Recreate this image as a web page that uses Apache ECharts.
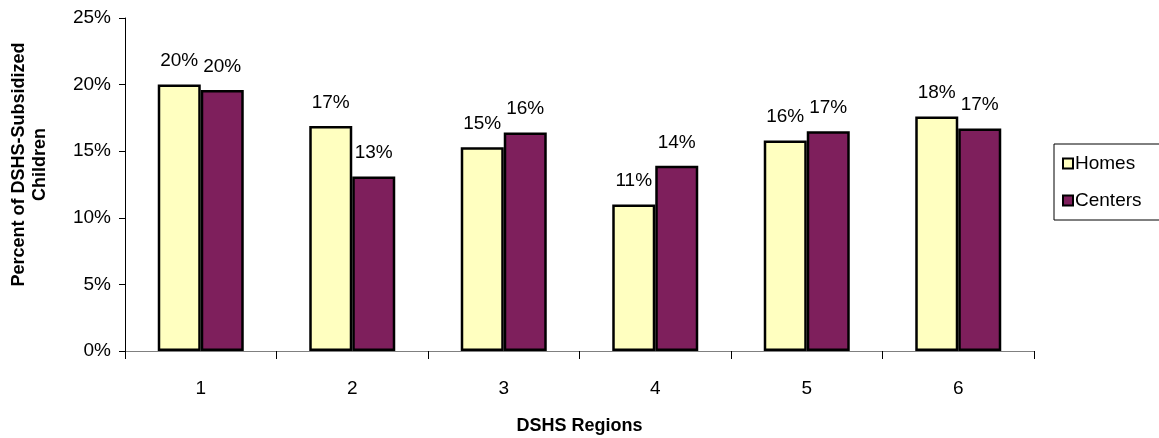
<!DOCTYPE html>
<html><head><meta charset="utf-8">
<script src="https://cdn.jsdelivr.net/npm/echarts@6/dist/echarts.min.js"></script>
<style>html,body{margin:0;padding:0;background:#fff}#c{width:1159px;height:438px}</style>
</head><body><div id="c"></div>
<script>
var categories = ['1','2','3','4','5','6'];
var homes = [20.0, 16.9, 15.3, 11.0, 15.8, 17.6];
var centers = [19.6, 13.1, 16.4, 13.9, 16.5, 16.7];
var yTicks = [0, 5, 10, 15, 20, 25];

var FONT = 'Liberation Sans, Arial, sans-serif';
var chart = echarts.init(document.getElementById('c'));
var lbl = {show:true, position:'top', distance:14, color:'#000', fontSize:19, fontFamily:FONT,
  formatter:function(p){return Math.round(p.value)+'%';}};
chart.setOption({
  animation:false,
  textStyle:{fontFamily:FONT},
  grid:{left:125, top:18, right:125, bottom:87, outerBoundsMode:'none', containLabel:false},
  legend:{
    orient:'vertical', left:1054, top:144, width:140,
    data:['Homes','Centers'],
    itemWidth:10, itemHeight:10, itemGap:18,
    icon:'rect',
    itemStyle:{borderColor:'#000', borderWidth:2},
    borderColor:'#000', borderWidth:1, padding:[10,30,10,8],
    textStyle:{fontSize:19, color:'#000', fontFamily:FONT, padding:[0,0,0,-3]}
  },
  xAxis:{
    type:'category', data:categories,
    name:'DSHS Regions', nameLocation:'middle', nameGap:66,
    nameTextStyle:{fontSize:18, fontWeight:'bold', color:'#000', fontFamily:FONT},
    axisLine:{lineStyle:{color:'#808080', width:1}},
    axisTick:{show:true, length:8, lineStyle:{color:'#000'}},
    axisLabel:{fontSize:19, color:'#000', margin:28, fontFamily:FONT}
  },
  yAxis:{
    type:'value', min:0, max:25, interval:5,
    name:'Percent of DSHS-Subsidized\nChildren', nameLocation:'middle', nameGap:74, nameRotate:90,
    nameTextStyle:{fontSize:18, fontWeight:'bold', color:'#000', lineHeight:21, fontFamily:FONT,
      padding:[0,0,0,40]},
    axisLine:{show:true, lineStyle:{color:'#000', width:1}},
    axisTick:{show:true, length:6, lineStyle:{color:'#000'}},
    splitLine:{show:false},
    axisLabel:{fontSize:19, color:'#000', margin:14, fontFamily:FONT,
      formatter:function(v){return v+'%';}}
  },
  series:[
    {name:'Homes', type:'bar', data:homes, barWidth:43, barGap:'0%',
     itemStyle:{color:'#FFFFC0', borderColor:'#000', borderWidth:2.5}, label:lbl},
    {name:'Centers', type:'bar', data:centers, barWidth:43, barGap:'0%',
     itemStyle:{color:'#7E1F5C', borderColor:'#000', borderWidth:2.5}, label:lbl}
  ]
});
</script></body></html>
